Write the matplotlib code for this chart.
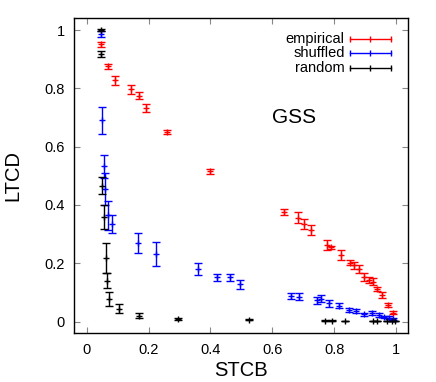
import numpy as np
import matplotlib
matplotlib.use("Agg")
import matplotlib.pyplot as plt

plt.rcParams['font.family'] = ['Liberation Sans', 'DejaVu Sans']

# empirical
emp_x = [0.047, 0.068, 0.093, 0.143, 0.168, 0.191, 0.261, 0.400, 0.639, 0.683,
         0.704, 0.724, 0.777, 0.791, 0.823, 0.851, 0.866, 0.880, 0.896, 0.912,
         0.925, 0.938, 0.956, 0.974, 0.989]
emp_y = [0.951, 0.875, 0.828, 0.797, 0.774, 0.732, 0.650, 0.515, 0.376, 0.357,
         0.335, 0.315, 0.262, 0.255, 0.229, 0.202, 0.193, 0.181, 0.154, 0.143,
         0.137, 0.113, 0.092, 0.057, 0.031]
emp_e = [0.008, 0.008, 0.015, 0.015, 0.012, 0.014, 0.008, 0.010, 0.010, 0.018,
         0.018, 0.018, 0.018, 0.006, 0.018, 0.009, 0.012, 0.014, 0.014, 0.010,
         0.012, 0.007, 0.010, 0.006, 0.006]

# shuffled
shf_x = [0.047, 0.050, 0.057, 0.060, 0.068, 0.081, 0.165, 0.224, 0.361, 0.422,
         0.463, 0.497, 0.660, 0.687, 0.746, 0.758, 0.783, 0.817, 0.849, 0.872,
         0.898, 0.921, 0.944, 0.961, 0.978, 0.989]
shf_y = [0.987, 0.690, 0.532, 0.454, 0.364, 0.334, 0.271, 0.232, 0.181, 0.152,
         0.152, 0.128, 0.088, 0.086, 0.074, 0.078, 0.063, 0.055, 0.040, 0.036,
         0.025, 0.029, 0.023, 0.016, 0.014, 0.009]
shf_e = [0.010, 0.047, 0.040, 0.055, 0.050, 0.030, 0.034, 0.040, 0.020, 0.012,
         0.012, 0.015, 0.010, 0.012, 0.012, 0.012, 0.012, 0.008, 0.008, 0.008,
         0.006, 0.006, 0.006, 0.005, 0.004, 0.004]

# random
rnd_x = [0.046, 0.047, 0.050, 0.057, 0.062, 0.065, 0.073, 0.105, 0.169, 0.294,
         0.526, 0.770, 0.794, 0.835, 0.927, 0.938, 0.970, 0.987, 0.998]
rnd_y = [1.000, 0.917, 0.466, 0.358, 0.218, 0.140, 0.078, 0.045, 0.021, 0.009,
         0.006, 0.003, 0.003, 0.002, 0.002, 0.002, 0.002, 0.002, 0.002]
rnd_e = [0.004, 0.010, 0.030, 0.042, 0.050, 0.026, 0.023, 0.015, 0.010, 0.003,
         0.002, 0.001, 0.001, 0.001, 0.001, 0.001, 0.001, 0.001, 0.001]

series = [("empirical", emp_x, emp_y, emp_e, "#ff0000"),
          ("shuffled", shf_x, shf_y, shf_e, "#0000ff"),
          ("random", rnd_x, rnd_y, rnd_e, "#000000")]

fig = plt.figure(figsize=(4.36, 3.82), dpi=100)
ax = fig.add_axes([0.1704, 0.1275, 0.7661, 0.8245])

for name, x, y, e, c in series:
    ax.errorbar(x, y, yerr=e, fmt='+', color=c, ms=4, mew=1, elinewidth=1,
                capsize=3, capthick=1)

# legend drawn gnuplot-style: right aligned text, horizontal errorbar sample
for i, (name, x, y, e, c) in enumerate(series):
    yy = 0.935 - i * 0.046
    ax.text(0.81, yy, name, transform=ax.transAxes, ha='right', va='center',
            fontsize=10.5)
    ax.plot([0.824, 0.886, 0.948], [yy, yy, yy], transform=ax.transAxes,
            color=c, lw=1, marker='|', ms=5, mew=1)

ax.text(0.60, 0.70, "GSS", fontsize=15, va='center', ha='left')

ax.set_xlim(-0.04, 1.04)
ax.set_ylim(-0.04, 1.04)
ticks = [0, 0.2, 0.4, 0.6, 0.8, 1]
labels = ['0', '0.2', '0.4', '0.6', '0.8', '1']
ax.set_xticks(ticks)
ax.set_xticklabels(labels)
ax.set_yticks(ticks)
ax.set_yticklabels(labels)
ax.tick_params(direction='in', top=True, right=True, length=4, width=0.8,
               labelsize=10.5, pad=7, colors='#888888', labelcolor='black')
for s in ax.spines.values():
    s.set_linewidth(1)
ax.set_xlabel("STCB", fontsize=14.5, labelpad=3)
ax.set_ylabel("LTCD", fontsize=14.5, labelpad=16)

fig.savefig("out.png", dpi=100)
